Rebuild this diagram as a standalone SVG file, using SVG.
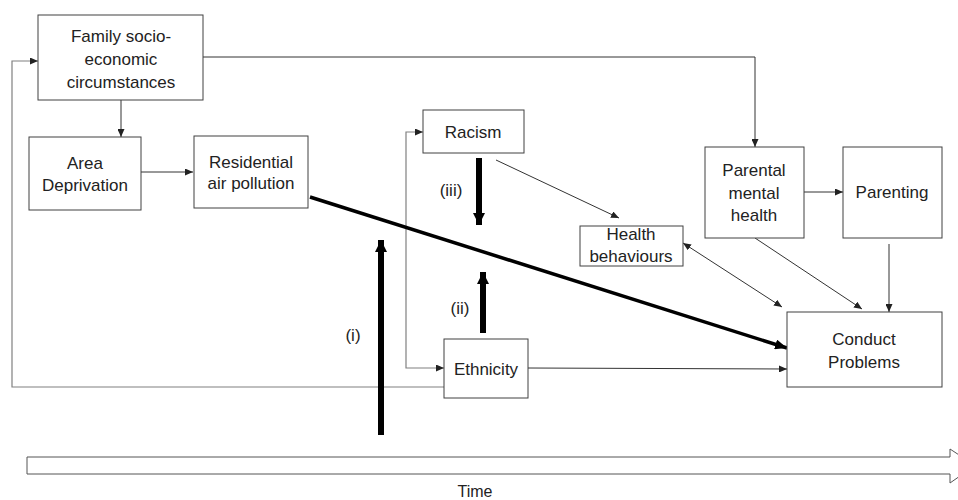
<svg xmlns="http://www.w3.org/2000/svg" width="958" height="500" viewBox="0 0 958 500">
<style>
.box{fill:#fff;stroke:#404040;stroke-width:1}
.t{font-family:"Liberation Sans",Arial,sans-serif;font-size:17px;fill:#222;text-anchor:middle}
.c{fill:none;stroke:#333;stroke-width:1}
.g{fill:none;stroke:#808080;stroke-width:1.2}
.k{fill:none;stroke:#000;stroke-width:6}
</style>
<defs>
<marker id="a" markerUnits="userSpaceOnUse" markerWidth="8" markerHeight="7" refX="8" refY="3.5" orient="auto-start-reverse"><path d="M0,0 L8,3.5 L0,7 z" fill="#222"/></marker>
<marker id="ka" markerUnits="userSpaceOnUse" markerWidth="16" markerHeight="12" refX="12" refY="6" orient="auto"><path d="M0,0 L12,6 L0,12 z" fill="#000"/></marker>
<marker id="la" markerUnits="userSpaceOnUse" markerWidth="14" markerHeight="10" refX="12" refY="5" orient="auto"><path d="M0,0 L12,5 L0,10 z" fill="#000"/></marker>
</defs>
<rect width="958" height="500" fill="#fff"/>
<g id="connectors">
<path class="c" d="M121,100 V137" marker-end="url(#a)"/>
<path class="c" d="M141,172 H193" marker-end="url(#a)"/>
<path class="c" d="M203,57 H755 V147" marker-end="url(#a)"/>
<path class="g" d="M444,387 H12 V61 H38" marker-end="url(#a)"/>
<path class="g" d="M423,132 H406 V368 H444" marker-start="url(#a)" marker-end="url(#a)"/>
<path class="c" d="M496,160 L619,218" marker-end="url(#a)"/>
<path class="c" d="M683,243 L782,307" marker-start="url(#a)" marker-end="url(#a)"/>
<path class="c" d="M755,238 L862,309" marker-end="url(#a)"/>
<path class="c" d="M804,192 H843" marker-end="url(#a)"/>
<path class="c" d="M889,244 V312" marker-end="url(#a)"/>
<path class="c" d="M528,368 L787,369" marker-end="url(#a)"/>
<path fill="none" stroke="#000" stroke-width="3.5" d="M310,197 L787,348" marker-end="url(#la)"/>
<path class="k" d="M381,435 V240" marker-end="url(#ka)"/>
<path class="k" d="M483,333 V272" marker-end="url(#ka)"/>
<path class="k" d="M479,158 V225" marker-end="url(#ka)"/>
</g>
<g id="family"><rect class="box" x="38" y="15" width="165" height="85"/>
<text class="t" x="121" y="42">Family socio-</text><text class="t" x="121" y="65">economic</text><text class="t" x="121" y="88">circumstances</text></g>
<g id="area"><rect class="box" x="29" y="137" width="112" height="73"/>
<text class="t" x="85" y="169">Area</text><text class="t" x="85" y="191">Deprivation</text></g>
<g id="residential"><rect class="box" x="194" y="136" width="114" height="72"/>
<text class="t" x="251" y="168">Residential</text><text class="t" x="251" y="189">air pollution</text></g>
<g id="racism"><rect class="box" x="423" y="110" width="101" height="43"/>
<text class="t" x="473" y="138">Racism</text></g>
<g id="health"><rect class="box" x="580" y="226" width="103" height="40"/>
<text class="t" x="631" y="240">Health</text><text class="t" x="631" y="262">behaviours</text></g>
<g id="ethnicity"><rect class="box" x="444" y="339" width="84" height="59"/>
<text class="t" x="486" y="375">Ethnicity</text></g>
<g id="parental"><rect class="box" x="705" y="147" width="99" height="91"/>
<text class="t" x="754" y="176">Parental</text><text class="t" x="754" y="199">mental</text><text class="t" x="754" y="221">health</text></g>
<g id="parenting"><rect class="box" x="843" y="147" width="99" height="91"/>
<text class="t" x="892" y="198">Parenting</text></g>
<g id="conduct"><rect class="box" x="787" y="312" width="155" height="75"/>
<text class="t" x="864" y="345">Conduct</text><text class="t" x="864" y="368">Problems</text></g>
<g id="labels">
<text class="t" x="353" y="341">(i)</text>
<text class="t" x="460" y="314">(ii)</text>
<text class="t" x="451" y="196">(iii)</text>
</g>
<g id="time">
<polygon points="27,457 950,457 950,449 975,465.5 950,483 950,474 27,474" fill="#fff" stroke="#555" stroke-width="1"/>
<text class="t" x="475" y="497" style="font-size:16px">Time</text>
</g>
</svg>
